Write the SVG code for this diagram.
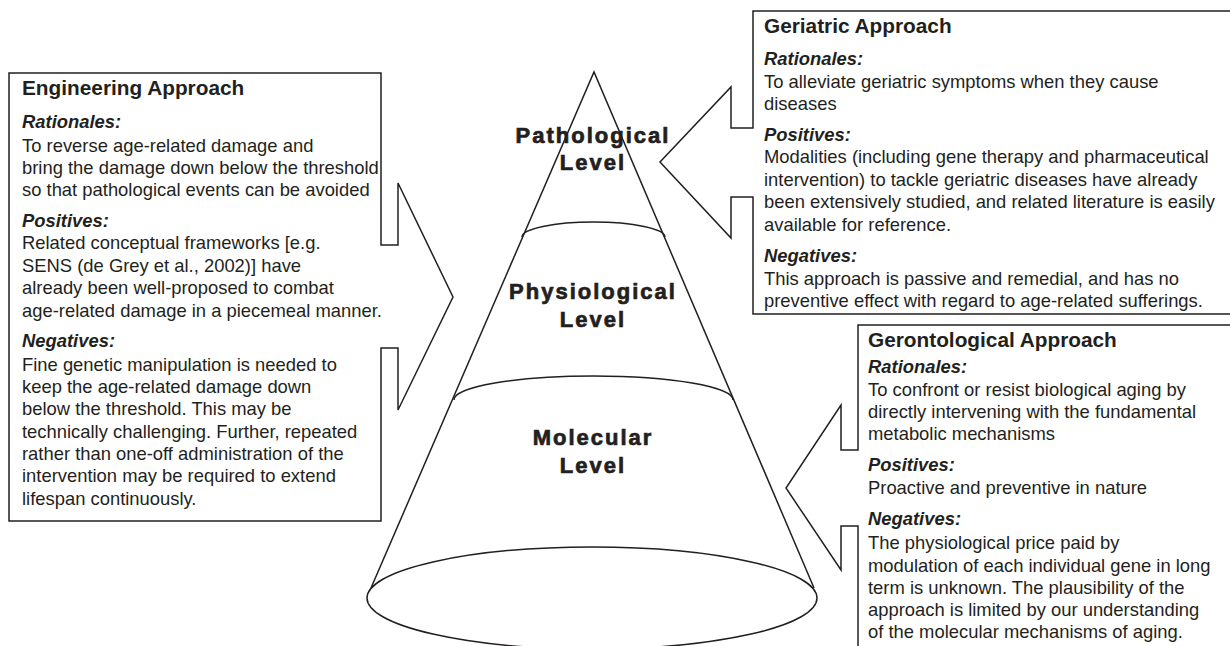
<svg xmlns="http://www.w3.org/2000/svg" width="1230" height="646" viewBox="0 0 1230 646">
<style>
.ln{fill:none;stroke:#231f20;stroke-width:1.5;stroke-linejoin:miter}
.box{fill:#ffffff;stroke:#231f20;stroke-width:1.5}
.t{font-family:"Liberation Sans",Arial,sans-serif;fill:#231f20}
.title{font-size:20.8px;font-weight:bold}
.sub{font-size:18.4px;font-weight:bold;font-style:italic}
.body{font-size:18.4px}
.lvl{font-family:"Liberation Sans",Arial,sans-serif;font-size:22px;font-weight:900;letter-spacing:2px;fill:#231f20;stroke:#231f20;stroke-width:0.7;text-anchor:middle}
</style>
<rect width="1230" height="646" fill="#ffffff"/>
<g id="cone">
<path class="ln" d="M371,588 L594,72 L814,588"/>
<path class="ln" d="M522,237 A71.5,15 0 0 1 665,237"/>
<path class="ln" d="M454,400 A139.5,24 0 0 1 733,400"/>
<ellipse class="ln" cx="592" cy="598" rx="225" ry="51"/>
<text class="lvl" x="593" y="143">Pathological</text>
<text class="lvl" x="593" y="170">Level</text>
<text class="lvl" x="593" y="299">Physiological</text>
<text class="lvl" x="593" y="327">Level</text>
<text class="lvl" x="593" y="445">Molecular</text>
<text class="lvl" x="593" y="473">Level</text>
</g>
<g id="engineering">
<path class="box" d="M9,73 L381,73 L381,245 L398,245 L398,183 L453,297 L398,410 L398,348 L381,348 L381,521 L9,521 Z"/>
<text class="t title" x="22" y="95">Engineering Approach</text>
<text class="t sub" x="22" y="128">Rationales:</text>
<text class="t body" x="22" y="151.5">To reverse age-related damage and</text>
<text class="t body" x="22" y="173.5">bring the damage down below the threshold</text>
<text class="t body" x="22" y="196">so that pathological events can be avoided</text>
<text class="t sub" x="22" y="226.5">Positives:</text>
<text class="t body" x="22" y="249">Related conceptual frameworks [e.g.</text>
<text class="t body" x="22" y="271.5">SENS (de Grey et al., 2002)] have</text>
<text class="t body" x="22" y="294">already been well-proposed to combat</text>
<text class="t body" x="22" y="316.5">age-related damage in a piecemeal manner.</text>
<text class="t sub" x="22" y="347">Negatives:</text>
<text class="t body" x="22" y="370.5">Fine genetic manipulation is needed to</text>
<text class="t body" x="22" y="393">keep the age-related damage down</text>
<text class="t body" x="22" y="415">below the threshold. This may be</text>
<text class="t body" x="22" y="437.5">technically challenging. Further, repeated</text>
<text class="t body" x="22" y="460">rather than one-off administration of the</text>
<text class="t body" x="22" y="482">intervention may be required to extend</text>
<text class="t body" x="22" y="504.5">lifespan continuously.</text>
</g>
<g id="geriatric">
<path class="box" d="M753,11 L1240,11 L1240,314 L753,314 L753,197 L731,197 L731,238 L660,162 L731,87 L731,128 L753,128 Z"/>
<text class="t title" x="764" y="33">Geriatric Approach</text>
<text class="t sub" x="764" y="65">Rationales:</text>
<text class="t body" x="764" y="88">To alleviate geriatric symptoms when they cause</text>
<text class="t body" x="764" y="110">diseases</text>
<text class="t sub" x="764" y="141">Positives:</text>
<text class="t body" x="764" y="163">Modalities (including gene therapy and pharmaceutical</text>
<text class="t body" x="764" y="186">intervention) to tackle geriatric diseases have already</text>
<text class="t body" x="764" y="208">been extensively studied, and related literature is easily</text>
<text class="t body" x="764" y="231">available for reference.</text>
<text class="t sub" x="764" y="262">Negatives:</text>
<text class="t body" x="764" y="285">This approach is passive and remedial, and has no</text>
<text class="t body" x="764" y="307">preventive effect with regard to age-related sufferings.</text>
</g>
<g id="gerontological">
<path class="box" d="M858,325 L1240,325 L1240,660 L858,660 L858,526 L841,526 L841,570 L786,488 L841,405 L841,450 L858,450 Z"/>
<text class="t title" x="868" y="347">Gerontological Approach</text>
<text class="t sub" x="868" y="373">Rationales:</text>
<text class="t body" x="868" y="396">To confront or resist biological aging by</text>
<text class="t body" x="868" y="418">directly intervening with the fundamental</text>
<text class="t body" x="868" y="440">metabolic mechanisms</text>
<text class="t sub" x="868" y="471">Positives:</text>
<text class="t body" x="868" y="494">Proactive and preventive in nature</text>
<text class="t sub" x="868" y="525">Negatives:</text>
<text class="t body" x="868" y="549">The physiological price paid by</text>
<text class="t body" x="868" y="572">modulation of each individual gene in long</text>
<text class="t body" x="868" y="594">term is unknown. The plausibility of the</text>
<text class="t body" x="868" y="616">approach is limited by our understanding</text>
<text class="t body" x="868" y="638">of the molecular mechanisms of aging.</text>
</g>
</svg>
